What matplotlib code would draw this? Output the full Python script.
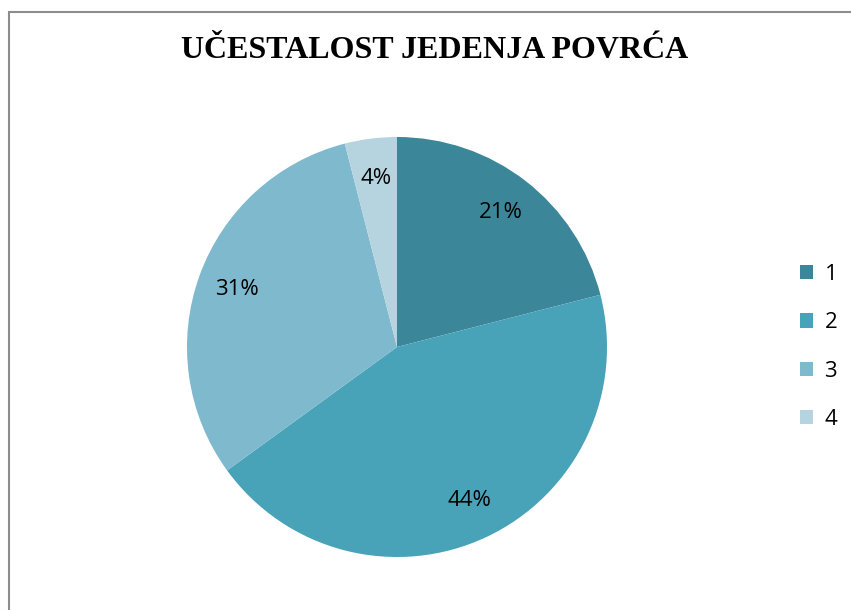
import matplotlib
matplotlib.use("Agg")
import matplotlib.pyplot as plt
from matplotlib.patches import Rectangle

title = "UČESTALOST JEDENJA POVRĆA"
categories = ["1", "2", "3", "4"]
values = [21, 44, 31, 4]
colors = ["#3B8799", "#48A2B8", "#7FB9CE", "#B6D4DF"]

fig = plt.figure(figsize=(8.51, 6.10), dpi=100)
fig.patch.set_facecolor("white")

# chart border (extends beyond right/bottom edges)
fig.add_artist(Rectangle((9/851, -0.05), 1.0, 1 - 12/610 + 0.05, transform=fig.transFigure,
                         fill=False, edgecolor="#8c8c8c", linewidth=1.5))

cx, cy, r = 397, 347, 210
ax = fig.add_axes([(cx - r) / 851, (610 - cy - r) / 610, 2 * r / 851, 2 * r / 610])
wedges, texts = ax.pie(values, colors=colors, startangle=90, counterclock=False,
                       labels=[f"{v}%" for v in values], labeldistance=0.81,
                       textprops=dict(fontsize=16, family="Open Sans", color="black"),
                       wedgeprops=dict(linewidth=0))
for t in texts:
    t.set_horizontalalignment("center")
    t.set_verticalalignment("center")
ax.set_aspect("equal")
ax.set_xlim(-1, 1)
ax.set_ylim(-1, 1)

fig.text(435/851, 1 - 51/610, title, ha="center", va="center",
         fontsize=23, fontweight="bold", family="Liberation Serif")

leg = fig.legend(wedges, categories, loc="center left", bbox_to_anchor=(780/851, 1 - 347/610),
                 frameon=False, prop=dict(family="Open Sans", size=16),
                 handlelength=0.6, handleheight=0.6, labelspacing=1.23, handletextpad=0.5)

fig.savefig("out.png", dpi=100, facecolor="white")
